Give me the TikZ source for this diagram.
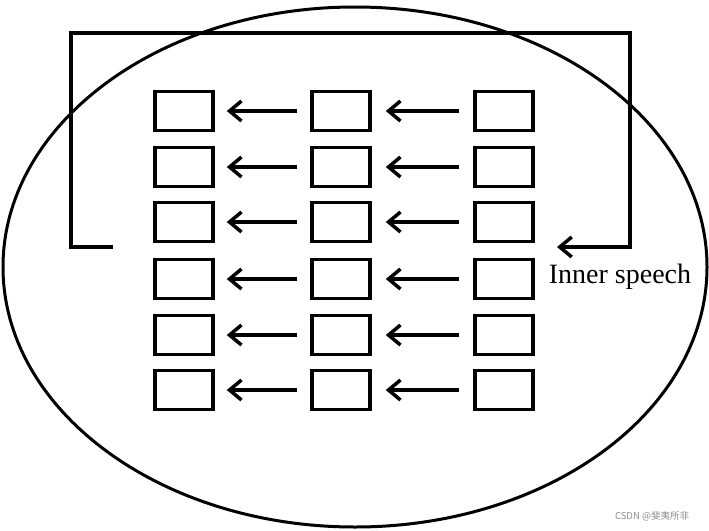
\documentclass[tikz,border=0pt]{standalone}
\usepackage{fontspec}
\setmainfont{Liberation Serif}
\newfontfamily\cjkfont{Noto Sans CJK SC}
\usetikzlibrary{arrows.meta, positioning}

\begin{document}
\begin{tikzpicture}[
    x=1pt, y=-1pt,
    unit/.style={
      rectangle, draw=black, line width=3.5pt,
      minimum width=58pt, minimum height=39pt,
      inner sep=0pt
    },
    arrow/.style={-{Straight Barb[length=12pt, width=20pt, line width=3.5pt]}, line width=4pt, draw=black},
    loop/.style={line width=3.5pt, draw=black}
  ]
    \useasboundingbox (0,0) rectangle (709,530);

    % head outline
    \draw[line width=3pt] (355,267) ellipse [x radius=352pt, y radius=260pt];

    % three columns, six rows
    \foreach \r/\y in {1/111, 2/167, 3/222, 4/279, 5/335, 6/390} {
      \node[unit] (b\r1) at (184,\y) {};
      \node[unit] (b\r2) at (341,\y) {};
      \node[unit] (b\r3) at (504,\y) {};
      \draw[arrow, shorten >=12pt, shorten <=13pt] (b\r2) -- (b\r1);
      \draw[arrow, shorten >=14pt, shorten <=14pt] (b\r3) -- (b\r2);
    }

    % feedback loop
    \coordinate (loopstart) at (113,247);
    \coordinate (loopend) at (557,247);
    \draw[loop] (loopstart) -- (71,247) -- (71,33) -- (630,33) -- (630,247) -- (575,247);
    \draw[arrow, line width=3.5pt] (590,247) -- (loopend);
    \node[font=\fontsize{28}{30}\selectfont] (speech) at (620,277) {Inner speech};

    \node[font=\cjkfont\fontsize{9.5}{11}\selectfont, text=black!45] (mark) at (652,516) {CSDN @斐夷所非};
  \end{tikzpicture}
\end{document}
